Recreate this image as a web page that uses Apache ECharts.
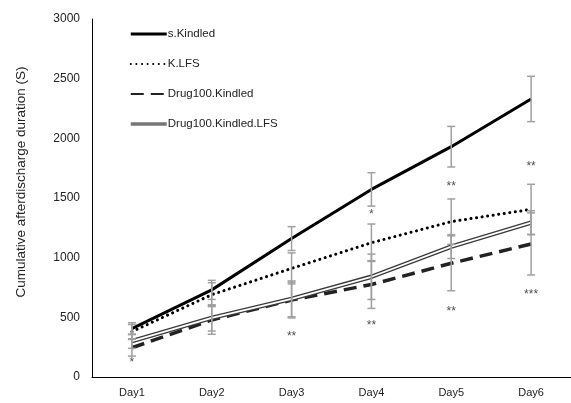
<!DOCTYPE html>
<html><head><meta charset="utf-8">
<script src="https://cdn.jsdelivr.net/npm/echarts@6/dist/echarts.min.js"></script>
<style>html,body{margin:0;padding:0;background:#fff}#c{width:571px;height:403px}</style>
</head><body><div id="c"></div>
<script>
var categories = ['Day1','Day2','Day3','Day4','Day5','Day6'];
var sKindled = [405, 730, 1160, 1572, 1930, 2330];
var sKindledErr = [50, 80, 100, 140, 170, 190];
var kLFS = [380, 690, 910, 1125, 1302, 1405];
var kLFSErr = [60, 100, 130, 157, 190, 210];
var drugKindled = [245, 478, 645, 775, 953, 1115];
var drugKindledErr = [70, 120, 150, 200, 230, 260];
var drugKindledLFS = [300, 495, 655, 840, 1093, 1293];
var drugKindledLFSErr = [60, 110, 150, 190, 100, 100];
var starDays = [0, 2, 3, 3, 4, 4, 5, 5];
var starValues = [117, 335, 1357, 427, 1594, 547, 1762, 692];
var starTexts = ['*', '**', '*', '**', '**', '**', '**', '***'];
var yTitle = 'Cumulative afterdischarge duration (S)';

var FONT = 'Liberation Sans';
var chart = echarts.init(document.getElementById('c'));

function errData(vals, errs) {
  return vals.map(function (v, i) { return [i, v - errs[i], v + errs[i]]; });
}
function errSeries(vals, errs) {
  return {
    type: 'custom', silent: true, z: 5,
    data: errData(vals, errs),
    renderItem: function (params, api) {
      var lo = api.coord([api.value(0), api.value(1)]);
      var hi = api.coord([api.value(0), api.value(2)]);
      var w = 4;
      var st = { stroke: '#a0a0a0', lineWidth: 1.5 };
      return { type: 'group', children: [
        { type: 'line', shape: { x1: lo[0], y1: lo[1], x2: hi[0], y2: hi[1] }, style: st },
        { type: 'line', shape: { x1: lo[0] - w, y1: lo[1], x2: lo[0] + w, y2: lo[1] }, style: st },
        { type: 'line', shape: { x1: hi[0] - w, y1: hi[1], x2: hi[0] + w, y2: hi[1] }, style: st }
      ]};
    }
  };
}

var stars = starDays.map(function (d, i) { return [d, starValues[i], starTexts[i]]; });

chart.setOption({
  animation: false,
  backgroundColor: '#fff',
  grid: { left: 92, right: -4, top: 19, bottom: 26, containLabel: false },
  graphic: [{
    type: 'text', x: 21, y: 182, rotation: Math.PI / 2,
    style: { text: yTitle, fontFamily: FONT, fontSize: 13.5, fill: '#222',
      align: 'center', verticalAlign: 'middle' }
  }],
  legend: {
    orient: 'vertical', left: 124, top: 24,
    itemWidth: 36, itemHeight: 14, itemGap: 16,
    itemStyle: { opacity: 0 },
    data: [{ name: 's.Kindled', lineStyle: { width: 3 } }, 'K.LFS', 'Drug100.Kindled',
      { name: 'Drug100.Kindled.LFS', lineStyle: { color: '#777', width: 3.5 } }],
    textStyle: { fontFamily: FONT, fontSize: 11.5, color: '#222', padding: [0, 0, 0, -4] }
  },
  xAxis: {
    type: 'category', data: categories, boundaryGap: true,
    axisLine: { lineStyle: { color: '#000', width: 1 } },
    axisTick: { show: false },
    axisLabel: { fontFamily: FONT, fontSize: 11, color: '#222', margin: 10 }
  },
  yAxis: {
    type: 'value', min: 0, max: 3000, interval: 500,
    axisLine: { show: true, lineStyle: { color: '#000', width: 1 } },
    axisTick: { show: false },
    splitLine: { show: false },
    axisLabel: { fontFamily: FONT, fontSize: 12, color: '#222', margin: 12,
      formatter: function (v) { return String(v); } }
  },
  series: [
    { name: 's.Kindled', type: 'line', data: sKindled, symbol: 'none', z: 3,
      lineStyle: { color: '#000', width: 3 }, itemStyle: { color: '#000' } },
    { name: 'K.LFS', type: 'line', data: kLFS, symbol: 'none', z: 3,
      lineStyle: { color: '#000', width: 3, type: [0.1, 5.5], cap: 'round' }, itemStyle: { color: '#000' } },
    { name: 'Drug100.Kindled', type: 'line', data: drugKindled, symbol: 'none', z: 3,
      lineStyle: { color: '#222', width: 3.5, type: [13, 7] }, itemStyle: { color: '#333' } },
    { name: 'Drug100.Kindled.LFS', type: 'line', data: drugKindledLFS, symbol: 'none', z: 3,
      lineStyle: { color: '#3a3a3a', width: 4.5 }, itemStyle: { color: '#666' } },
    { name: 'inner', type: 'line', data: drugKindledLFS, symbol: 'none', z: 4,
      lineStyle: { color: '#fff', width: 1.8 } },
    errSeries(sKindled, sKindledErr),
    errSeries(kLFS, kLFSErr),
    errSeries(drugKindled, drugKindledErr),
    errSeries(drugKindledLFS, drugKindledLFSErr),
    { type: 'scatter', data: stars, symbolSize: 0, silent: true, z: 6,
      label: { show: true, position: 'inside', formatter: function (p) { return p.data[2]; },
        fontFamily: FONT, fontSize: 12, color: '#222' } }
  ]
});
chart.setOption({ legend: { itemGap: 18, top: 23 } });
</script></body></html>
